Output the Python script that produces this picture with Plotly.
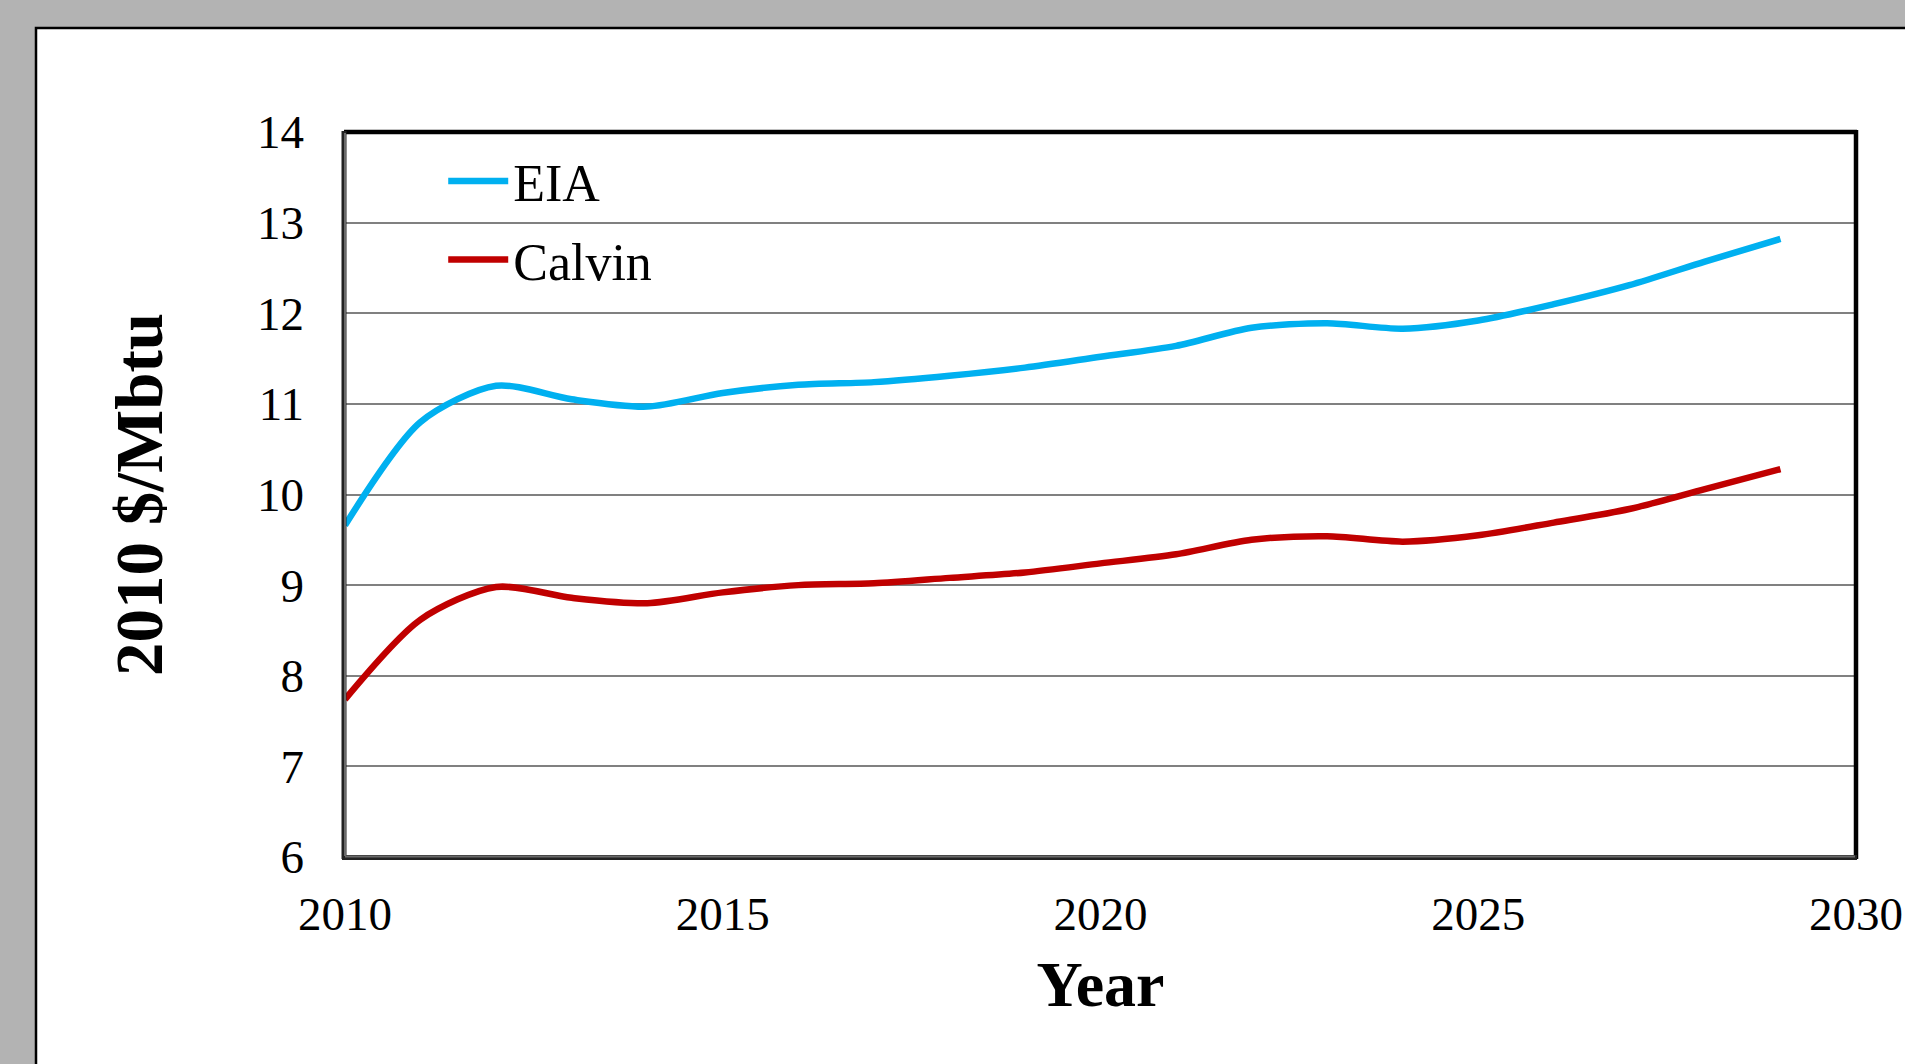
import plotly.graph_objects as go

years = list(range(2010, 2030))
eia = [9.66, 10.80, 11.20, 11.05, 10.97, 11.12, 11.21, 11.24, 11.31, 11.40,
       11.52, 11.64, 11.84, 11.89, 11.83, 11.92, 12.10, 12.31, 12.57, 12.82]
calvin = [7.74, 8.62, 8.98, 8.86, 8.80, 8.92, 9.00, 9.02, 9.08, 9.14,
          9.24, 9.34, 9.50, 9.54, 9.48, 9.55, 9.69, 9.84, 10.06, 10.28]
x_ticks = [2010, 2015, 2020, 2025, 2030]
y_ticks = [6, 7, 8, 9, 10, 11, 12, 13, 14]

W, H = 1905, 1064
L, R, T, B = 345, 49, 132, 207
pw, ph = W - L - R, H - T - B

def px(xpix):
    return (xpix - L) / pw

def py(ypix):
    return (H - B - ypix) / ph

FONT = "Liberation Serif, Times New Roman, serif"

fig = go.Figure()
fig.add_trace(go.Scatter(x=years, y=eia, name="EIA", mode="lines",
                         line=dict(color="#00B0F0", width=6.5, shape="spline", smoothing=0.8),
                         legendgroup="a"))
fig.add_trace(go.Scatter(x=years, y=calvin, name="Calvin", mode="lines",
                         line=dict(color="#C00000", width=6.5, shape="spline", smoothing=0.8),
                         legendgroup="b"))

shapes = [
    # white slide panel with border
    dict(type="rect", xref="paper", yref="paper", x0=px(36), x1=px(2000), y0=py(1200), y1=py(28),
         fillcolor="white", line=dict(color="black", width=2.5), layer="below"),
    # plot frame
    dict(type="line", xref="paper", yref="paper", x0=px(344), x1=px(1857), y0=py(132), y1=py(132),
         line=dict(color="black", width=4.5)),
    dict(type="line", xref="paper", yref="paper", x0=px(1856), x1=px(1856), y0=py(130), y1=py(859),
         line=dict(color="black", width=4.5)),
    dict(type="line", xref="paper", yref="paper", x0=px(344), x1=px(344), y0=py(131), y1=py(859),
         line=dict(color="#222222", width=5)),
    dict(type="line", xref="paper", yref="paper", x0=px(342), x1=px(1857), y0=py(857.5), y1=py(857.5),
         line=dict(color="#222222", width=5)),
    dict(type="line", xref="paper", yref="paper", x0=px(345), x1=px(345), y0=py(133), y1=py(856),
         line=dict(color="#6a6a6a", width=2)),
    dict(type="line", xref="paper", yref="paper", x0=px(345), x1=px(1855), y0=py(856.5), y1=py(856.5),
         line=dict(color="#6a6a6a", width=2)),
]

fig.update_layout(
    width=W, height=H,
    margin=dict(l=L, r=R, t=T, b=B, autoexpand=False),
    paper_bgcolor="#B3B3B3",
    plot_bgcolor="white",
    font=dict(family=FONT, color="black", size=47),
    shapes=shapes,
    showlegend=True,
    legend=dict(x=0.065, y=0.988, xanchor="left", yanchor="top",
                bgcolor="rgba(0,0,0,0)", font=dict(size=52, family=FONT),
                tracegroupgap=8, itemwidth=60),
    xaxis=dict(range=[2010, 2030], tickvals=x_ticks, ticktext=[str(v) for v in x_ticks],
               showgrid=False, zeroline=False, showline=False, ticks="",
               tickfont=dict(size=47, family=FONT), ticklabelstandoff=25,
               title=dict(text="<b>Year</b>", font=dict(size=64, family=FONT), standoff=22),
               automargin=False),
    yaxis=dict(range=[6, 14], tickvals=y_ticks, ticktext=[str(v) for v in y_ticks],
               showgrid=True, gridcolor="#808080", gridwidth=2, zeroline=False,
               showline=False, ticks="",
               tickfont=dict(size=47, family=FONT), ticklabelstandoff=40,
               title=dict(text="<b>2010 $/Mbtu</b>", font=dict(size=67, family=FONT), standoff=72),
               automargin=False),
)

fig.write_html("out.html")
